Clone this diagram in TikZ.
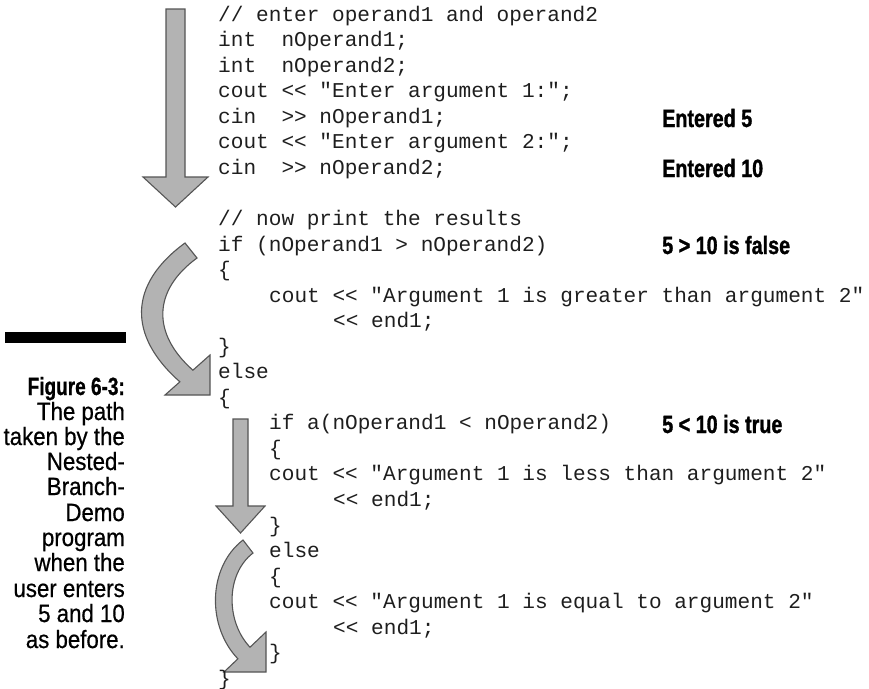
\documentclass[tikz,border=0pt]{standalone}
\usepackage{fontspec}
\newfontfamily\codefont{Liberation Mono}
\newfontfamily\lblfont[FakeStretch=0.79, FakeBold=1.2]{Liberation Sans}
\newfontfamily\figfont[FakeStretch=0.76, FakeBold=0.8]{Liberation Sans}
\newfontfamily\capfont[FakeStretch=0.89, FakeBold=0.6]{Liberation Sans}
\definecolor{codeink}{HTML}{1E1E1E}
\definecolor{arrowfill}{HTML}{B3B3B3}
\definecolor{arrowline}{HTML}{555555}
\tikzset{
  code/.style={anchor=west, inner sep=0pt, text=codeink,
    font=\codefont\fontsize{21.1}{25}\selectfont,
    text height=15.8pt, text depth=5.3pt},
  result/.style={anchor=west, inner sep=0pt,
    font=\lblfont\bfseries\fontsize{25}{25}\selectfont,
    text height=18pt, text depth=0pt},
  capline/.style={anchor=east, inner sep=0pt,
    font=\capfont\fontsize{25}{25}\selectfont,
    text height=18pt, text depth=0pt},
  flow/.style={fill=arrowfill, draw=arrowline, line width=1.1pt, line join=miter}
}
% vertical centre of code line slot k
\newcommand{\rowy}[1]{{16+25.54*#1}}
\begin{document}
\begin{tikzpicture}[x=1pt, y=-1pt]
\useasboundingbox (0,0) rectangle (869,688);

% ---- flow arrows ----
% straight arrow through the input block
\draw[flow] (166,9) -- (185,9) -- (185,177) -- (208,177) -- (175.5,207)
  -- (143,177) -- (166,177) -- cycle;
% curved arrow skipping the if branch
\draw[flow] (185,243) .. controls (128.3,284.3) and (127.5,335.8) .. (179.9,381.8)
  -- (165,395) -- (210,395) -- (210,355) -- (192.9,370.2)
  .. controls (151.75,333.7) and (152.5,290.5) .. (197,258) -- cycle;
% straight arrow through the nested if branch
\draw[flow] (233,419) -- (248,419) -- (248,506) -- (265,506) -- (240.5,533)
  -- (216,506) -- (233,506) -- cycle;
% curved arrow skipping the nested else branch
\draw[flow] (243,540) .. controls (207.4,567.5) and (206.9,626.6) .. (237.9,658.8)
  -- (224,672) -- (266,672) -- (266,632) -- (250,647.2)
  .. controls (225.9,621.8) and (225.3,574.4) .. (253,553) -- cycle;

% ---- program listing ----
\node[code] (c1)  at (218,\rowy{0})  {// enter operand1 and operand2};
\node[code] (c2)  at (218,\rowy{1})  {int\ \ nOperand1;};
\node[code] (c3)  at (218,\rowy{2})  {int\ \ nOperand2;};
\node[code] (c4)  at (218,\rowy{3})  {cout << "Enter argument 1:";};
\node[code] (c5)  at (218,\rowy{4})  {cin\ \ >> nOperand1;};
\node[code] (c6)  at (218,\rowy{5})  {cout << "Enter argument 2:";};
\node[code] (c7)  at (218,\rowy{6})  {cin\ \ >> nOperand2;};
\node[code] (c8)  at (218,\rowy{8})  {// now print the results};
\node[code] (c9)  at (218,\rowy{9})  {if (nOperand1 > nOperand2)};
\node[code] (c10) at (218,\rowy{10}) {\{};
\node[code] (c11) at (269,\rowy{11}) {cout << "Argument 1 is greater than argument 2"};
\node[code] (c12) at (333,\rowy{12}) {<< end1;};
\node[code] (c13) at (218,\rowy{13}) {\}};
\node[code] (c14) at (218,\rowy{14}) {else};
\node[code] (c15) at (218,\rowy{15}) {\{};
\node[code] (c16) at (269,\rowy{16}) {if a(nOperand1 < nOperand2)};
\node[code] (c17) at (269,\rowy{17}) {\{};
\node[code] (c18) at (269,\rowy{18}) {cout << "Argument 1 is less than argument 2"};
\node[code] (c19) at (333,\rowy{19}) {<< end1;};
\node[code] (c20) at (269,\rowy{20}) {\}};
\node[code] (c21) at (269,\rowy{21}) {else};
\node[code] (c22) at (269,\rowy{22}) {\{};
\node[code] (c23) at (269,\rowy{23}) {cout << "Argument 1 is equal to argument 2"};
\node[code] (c24) at (333,\rowy{24}) {<< end1;};
\node[code] (c25) at (269,\rowy{25}) {\}};
\node[code] (c26) at (218,\rowy{26}) {\}};

% ---- run-time notes ----
\node[result] (r1) at (662,118) {Entered 5};
\node[result] (r2) at (662,168) {Entered 10};
\node[result] (r3) at (662,245) {5 > 10 is false};
\node[result] (r4) at (662,424) {5 < 10 is true};

% ---- caption ----
\fill (5,332) rectangle (126,343);
\node[capline, font=\figfont\bfseries\fontsize{25}{25}\selectfont] (f0) at (125,386) {Figure 6-3:};
\node[capline] (f1)  at (125,411) {The path};
\node[capline] (f2)  at (125,436) {taken by the};
\node[capline] (f3)  at (125,461) {Nested-};
\node[capline] (f4)  at (125,486) {Branch-};
\node[capline] (f5)  at (125,512) {Demo};
\node[capline] (f6)  at (125,537) {program};
\node[capline] (f7)  at (125,562) {when the};
\node[capline] (f8)  at (125,588) {user enters};
\node[capline] (f9)  at (125,613) {5 and 10};
\node[capline] (f10) at (125,639) {as before.};
\end{tikzpicture}
\end{document}
